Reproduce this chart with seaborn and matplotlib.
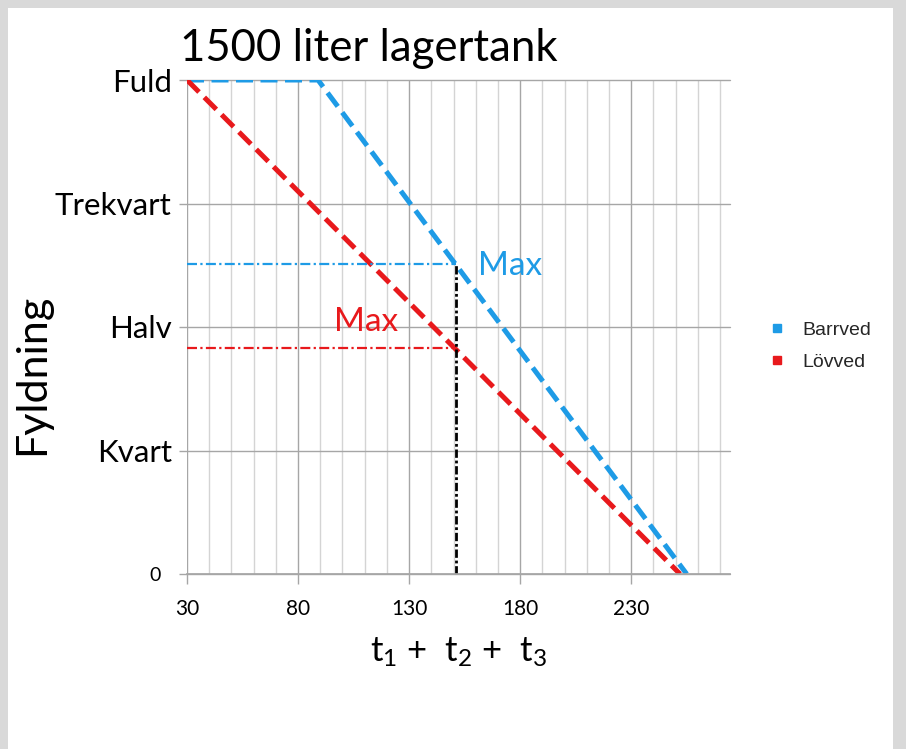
import matplotlib
matplotlib.use("Agg")
import matplotlib.pyplot as plt
from matplotlib.lines import Line2D
from matplotlib.patches import Rectangle
import seaborn as sns

# data (x = t1+t2+t3, y = liter i tanken)
barr_x = [30, 89, 255]
barr_y = [1500, 1500, 0]
lov_x = [30, 252]
lov_y = [1500, 0]
max_t = 151
barr_max = 940
lov_max = 686

y_ticks = [0, 375, 750, 1125, 1500]
y_labels = ["0", "Kvart", "Halv", "Trekvart", "Fuld"]
x_ticks = [30, 80, 130, 180, 230]

blue = "#1e9be6"
red = "#e8191c"

sns.set_theme(style="white")
plt.rcParams["font.family"] = ["Lato", "DejaVu Sans"]
plt.rcParams["mathtext.fontset"] = "custom"
plt.rcParams["mathtext.rm"] = "Lato"
plt.rcParams["mathtext.it"] = "Lato"

fig = plt.figure(figsize=(9.06, 7.49), dpi=100)
fig.patch.set_facecolor("#d9d9d9")
fig.patches.append(Rectangle((8 / 906, 0), 885 / 906, 1 - 8 / 749,
                             transform=fig.transFigure, facecolor="white",
                             edgecolor="none", zorder=-5))

ax = fig.add_axes([187 / 906, 1 - 574 / 749, 543 / 906, 494 / 749])
ax.set_facecolor("white")

# main curves
sns.lineplot(x=barr_x, y=barr_y, color=blue, lw=3.6, linestyle=(0, (3.4, 1.5)),
             estimator=None, sort=False, ax=ax)
sns.lineplot(x=lov_x, y=lov_y, color=red, lw=3.6, linestyle=(0, (3.4, 1.5)),
             estimator=None, sort=False, ax=ax)

# max markers
sns.lineplot(x=[30, max_t], y=[barr_max, barr_max], color=blue, lw=1.6,
             linestyle=(0, (4.5, 1.5, 1, 1.5)), estimator=None, sort=False, ax=ax)
sns.lineplot(x=[30, max_t], y=[lov_max, lov_max], color=red, lw=1.6,
             linestyle=(0, (4.5, 1.5, 1, 1.5)), estimator=None, sort=False, ax=ax)
sns.lineplot(x=[max_t, max_t], y=[0, barr_max], color="black", lw=2,
             linestyle=(0, (3, 1, 1, 1)), estimator=None, sort=False, ax=ax)

ax.text(161, 935, "Max", color=blue, fontsize=24, va="center", ha="left")
ax.text(96, 765, "Max", color=red, fontsize=24, va="center", ha="left")

ax.set_xlim(30, 274.5)
ax.set_ylim(0, 1500)
ax.set_xticks(x_ticks)
ax.set_xticks(range(40, 275, 10), minor=True)
ax.set_yticks(y_ticks)
# the "0" sits a bit further from the axis than the word labels
ax.set_yticklabels([lab + "  " if lab == "0" else lab for lab in y_labels])
for lab in ax.get_yticklabels():
    lab.set_color("black")
    lab.set_fontsize(14 if lab.get_text().strip() == "0" else 22.5)
for lab in ax.get_xticklabels():
    lab.set_fontsize(15)
    lab.set_color("black")

ax.grid(which="major", axis="both", color="#a6a6a6", lw=1)
ax.grid(which="minor", axis="x", color="#d4d4d4", lw=1)
ax.set_axisbelow(True)
ax.tick_params(which="minor", length=0)
ax.tick_params(axis="x", which="major", length=7, width=1, color="#a6a6a6",
               direction="out", pad=11, bottom=True)
ax.tick_params(axis="y", which="major", length=6, width=1, color="#a6a6a6",
               direction="out", pad=5, left=True)
for side in ["left", "right", "top"]:
    ax.spines[side].set_visible(False)
ax.spines["bottom"].set_color("#a6a6a6")
for gl in ax.get_ygridlines():
    gl.set_clip_on(False)

ax.set_xlabel(r"t$_\mathrm{1}$ +  t$_\mathrm{2}$ +  t$_\mathrm{3}$", fontsize=25,
              labelpad=12, color="black")
ax.set_ylabel("Fyldning", fontsize=31, color="black")
ax.yaxis.set_label_coords(-0.25, 0.405)

fig.text(180 / 906, 1 - 61 / 749, "1500 liter lagertank", fontsize=31.5,
         va="baseline", ha="left", color="black")

handles = [
    Line2D([], [], marker="s", ls="", color=blue, markersize=5.5, label="Barrved"),
    Line2D([], [], marker="s", ls="", color=red, markersize=5.5, label="Lövved"),
]
fig.legend(handles=handles, loc="center left", bbox_to_anchor=(750 / 906, 1 - 346 / 749),
           frameon=False, prop={"family": "Liberation Sans", "size": 14},
           handlelength=1, handletextpad=0.8, labelspacing=0.75)

fig.savefig("out.png", dpi=100, facecolor=fig.get_facecolor())
